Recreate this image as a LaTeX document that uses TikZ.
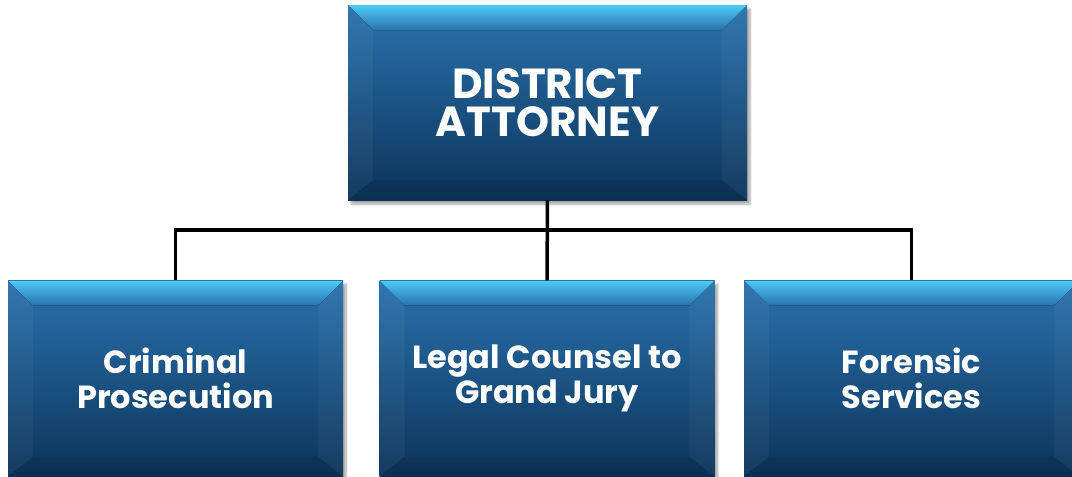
\documentclass[tikz,border=0pt]{standalone}
\usepackage{fontspec}
\setmainfont{Poppins}[BoldFont={Poppins Bold}]
\usetikzlibrary{shadows.blur,calc}
\definecolor{bcyan}{HTML}{4CCBF7}
\definecolor{bblue}{HTML}{2A72AE}
\definecolor{bnavy}{HTML}{0C3459}
\tikzset{
  x=1pt, y=-1pt,
  orgbox/.style={rectangle, inner sep=0pt, align=center, text=white,
    font=\bfseries, top color=bblue, bottom color=bnavy,
    blur shadow={shadow xshift=3pt, shadow yshift=-4pt, shadow opacity=35, shadow blur steps=6},
    path picture={
      \coordinate (nw) at (path picture bounding box.north west);
      \coordinate (ne) at (path picture bounding box.north east);
      \coordinate (sw) at (path picture bounding box.south west);
      \coordinate (se) at (path picture bounding box.south east);
      \fill[top color=bcyan, bottom color=bblue]
        (nw) -- (ne) -- ([shift={(-25pt,-25pt)}]ne) -- ([shift={(25pt,-25pt)}]nw) -- cycle;
      \fill[white, opacity=0.04]
        (nw) -- ([shift={(25pt,-25pt)}]nw) -- ([shift={(25pt,20pt)}]sw) -- (sw) -- cycle;
      \fill[white, opacity=0.04]
        (ne) -- ([shift={(-25pt,-25pt)}]ne) -- ([shift={(-25pt,20pt)}]se) -- (se) -- cycle;
      \fill[black, opacity=0.08]
        (sw) -- ([shift={(25pt,20pt)}]sw) -- ([shift={(-25pt,20pt)}]se) -- (se) -- cycle;
    }},
  topbox/.style={orgbox, minimum width=399pt, minimum height=195pt,
    font=\bfseries\fontsize{42}{38}\selectfont},
  subbox/.style={orgbox, minimum width=335pt, minimum height=196pt,
    font=\bfseries\fontsize{32}{35}\selectfont},
  conn/.style={draw=black, line width=3.5pt}
}
\begin{document}
\begin{tikzpicture}
\useasboundingbox (0,0) rectangle (1072,477);
\node[topbox] (da) at (547.5,102.5) {DISTRICT\\ATTORNEY};
\node[subbox] (cp) at (175.5,378.5) {Criminal\\Prosecution};
\node[subbox] (lc) at (547,378.5) {Legal Counsel to\\Grand Jury};
\node[subbox] (fs) at (911.5,378.5) {Forensic\\Services};
\coordinate (j) at ($(da.south)+(0,30)$);
\draw[conn] (da.south) -- (lc.north);
\draw[conn] (cp.north) |- (j);
\draw[conn] (fs.north) |- (j);
\end{tikzpicture}
\end{document}
